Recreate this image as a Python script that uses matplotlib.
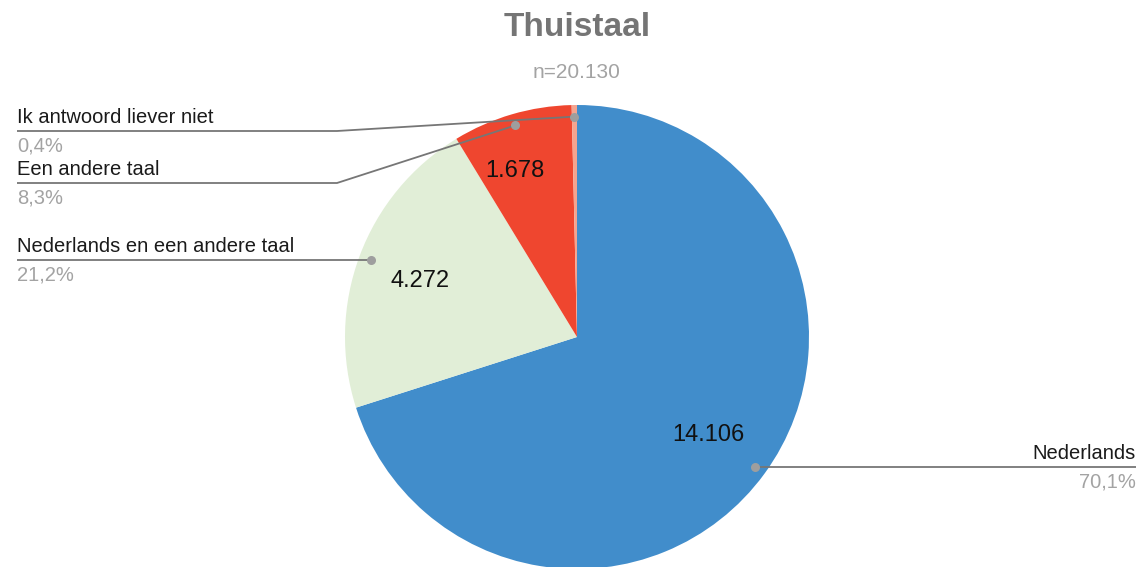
import numpy as np
import matplotlib.pyplot as plt

plt.rcParams['font.family'] = ['Liberation Sans', 'DejaVu Sans']

categories = ["Nederlands", "Nederlands en een andere taal", "Een andere taal", "Ik antwoord liever niet"]
counts = [14106, 4272, 1678, 74]
value_labels = ["14.106", "4.272", "1.678", ""]
pct_labels = ["70,1%", "21,2%", "8,3%", "0,4%"]
colors = ["#418dcb", "#e1eed7", "#ef462f", "#f5a48f"]

W, H = 1140, 567


def py(y):
    # pixel row from top -> data y
    return H - y


fig = plt.figure(figsize=(W / 100, H / 100), dpi=100)
ax = fig.add_axes([0, 0, 1, 1])

cx, cy, R = 577, py(337), 232
wedges, _ = ax.pie(counts, colors=colors, radius=R, center=(cx, cy),
                   startangle=90, counterclock=False,
                   wedgeprops=dict(linewidth=0))
ax.set_xlim(0, W)
ax.set_ylim(0, H)
ax.set_aspect("equal")
ax.axis("off")

# mid-angles of each wedge
mids = [np.deg2rad((w.theta1 + w.theta2) / 2) for w in wedges]

# value labels inside the slices (radius fraction, angle nudge in degrees)
val_r = [0.70, 0.72, 0.77, 0.0]
val_da = [0, 0, 4, 0]
for lab, a, fr, da in zip(value_labels, mids, val_r, val_da):
    if not lab:
        continue
    a = a + np.deg2rad(da)
    ax.text(cx + fr * R * np.cos(a), cy + fr * R * np.sin(a) - 2, lab,
            ha="center", va="center", fontsize=17, color="#111111")

# leader lines and outside labels
line_col = "#767676"
dot_col = "#9e9e9e"
lab_col = "#1a1a1a"
pct_col = "#a3a3a3"
elbow_x = 337
line_y = [466, 260, 183, 131]
for i, (name, pct, a) in enumerate(zip(categories, pct_labels, mids)):
    dx, dy = cx + 0.95 * R * np.cos(a), cy + 0.95 * R * np.sin(a)
    ly = py(line_y[i])
    if i == 0:
        end_x = 1136
        xs, ys = [dx, end_x], [dy, dy]
        ha, tx = "right", end_x
    elif i == 1:
        end_x = 17
        xs, ys = [dx, end_x], [dy, dy]
        ha, tx = "left", end_x
    else:
        end_x = 17
        xs, ys = [dx, elbow_x, end_x], [dy, ly, ly]
        ha, tx = "left", end_x
    ax.plot(xs, ys, color=line_col, lw=1.3, solid_capstyle="butt", zorder=3)
    ax.plot([dx], [dy], "o", ms=6.5, color=dot_col, mec="none", zorder=4)
    ax.text(tx, ys[-1] + 4, name, ha=ha, va="bottom", fontsize=14.5, color=lab_col)
    ax.text(tx, ys[-1] - 6, pct, ha=ha, va="top", fontsize=14.5, color=pct_col)

ax.text(577, py(27), "Thuistaal", ha="center", va="center", fontsize=24,
        fontweight="bold", color="#757575")
ax.text(577, py(73), "n=20.130", ha="center", va="center", fontsize=15, color="#a3a3a3")

fig.savefig("out.png", dpi=100)
